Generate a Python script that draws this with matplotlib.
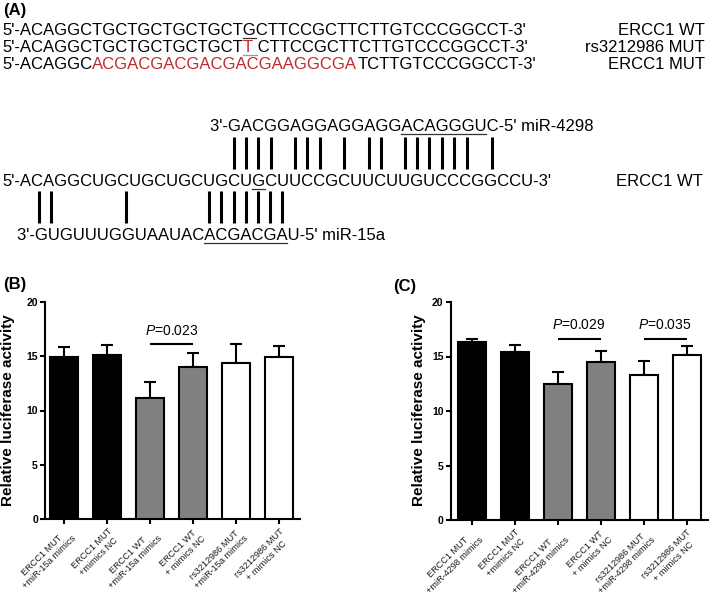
import numpy as np
import matplotlib
matplotlib.use('Agg')
import matplotlib.pyplot as plt
from matplotlib.font_manager import FontProperties

plt.rcParams['font.family'] = ['Liberation Sans', 'DejaVu Sans']
plt.rcParams['mathtext.fontset'] = 'custom'
plt.rcParams['mathtext.it'] = 'Liberation Sans:italic'
plt.rcParams['mathtext.rm'] = 'Liberation Sans'

# ---------------- panel A: sequences ----------------
wt_dna = "ACAGGCTGCTGCTGCTGCTGCTTCCGCTTCTTGTCCCGGCCT"
snp_pos = 19          # G>T site (rs3212986)
snp_alt = "T"
mut_start, mut_end = 6, 28   # region replaced in ERCC1 MUT
mir4298 = "GACGGAGGAGGAGGACAGGGUC"   # written 3'->5'
mir15a = "GUGUUUGGUAAUACACGACGAU"    # written 3'->5'
mir4298_offset = 17   # miRNA base j sits over target base j+offset
mir15a_offset = 1
seed = (14, 21)
row_names = ["ERCC1 WT", "rs3212986 MUT", "ERCC1 MUT"]

# ---------------- panels B and C: luciferase ----------------
labels_b = ["ERCC1 MUT\n+miR-15a mimics", "ERCC1 MUT\n+mimics NC",
            "ERCC1 WT\n+miR-15a mimics", "ERCC1 WT\n+ mimics NC",
            "rs3212986 MUT\n+miR-15a mimics", "rs3212986 MUT\n+ mimics NC"]
values_b = [14.9, 15.15, 11.15, 14.0, 14.4, 14.95]
errors_b = [0.95, 0.9, 1.5, 1.3, 1.75, 1.0]
sig_b = [(2, 3, 16.1, "0.023")]

labels_c = ["ERCC1 MUT\n+miR-4298 mimics", "ERCC1 MUT\n+mimics NC",
            "ERCC1 WT\n+miR-4298 mimics", "ERCC1 WT\n+ mimics NC",
            "rs3212986 MUT\n+miR-4298 mimics", "rs3212986 MUT\n+ mimics NC"]
values_c = [16.35, 15.45, 12.5, 14.5, 13.3, 15.15]
errors_c = [0.3, 0.65, 1.05, 1.05, 1.25, 0.8]
sig_c = [(2, 3, 16.6, "0.029"), (4, 5, 16.6, "0.035")]

bar_colors = ['black', 'black', '#808080', '#808080', 'white', 'white']

W, H = 709, 596
fig = plt.figure(figsize=(W / 100, H / 100), dpi=100)
renderer = fig.canvas.get_renderer()

axA = fig.add_axes([0, 0, 1, 1])
axA.set_xlim(0, W)
axA.set_ylim(H, 0)
axA.axis('off')

fp = FontProperties(family='Liberation Sans', size=12)
red = '#c22b2b'


def tw(s):
    if s == "":
        return 0.0
    return renderer.get_text_width_height_descent(s, fp, ismath=False)[0]


def draw_pieces(x0, y, pieces):
    x = x0
    for txt, col in pieces:
        axA.text(x, y, txt, color=col, fontproperties=fp, ha='left', va='baseline')
        x += tw(txt)
    return "".join(p[0] for p in pieces)


def center(x0, s, k):
    return x0 + tw(s[:k]) + tw(s[k]) / 2


def underline(x0, s, a, b, y, col='#333333'):
    axA.plot([x0 + tw(s[:a]), x0 + tw(s[:b])], [y + 3, y + 3], color=col, lw=0.9)


axA.text(3, 15, "(A)", fontsize=12, fontweight='bold', va='baseline')

x0 = 2
# ERCC1 WT
s1 = draw_pieces(x0, 35, [("5'-" + wt_dna + "-3'", 'black')])
underline(x0, s1, 3 + snp_pos, 4 + snp_pos, 35)
# rs3212986 MUT
s2 = draw_pieces(x0, 52, [("5'-" + wt_dna[:snp_pos], 'black'), (snp_alt, red),
                          (" " + wt_dna[snp_pos + 1:] + "-3'", 'black')])
underline(x0, s2, 3 + snp_pos, 5 + snp_pos, 52, col='#999999')
# ERCC1 MUT (complement of the binding region)
comp = {'A': 'T', 'T': 'A', 'G': 'C', 'C': 'G'}
mut_part = "".join(comp[c] for c in wt_dna[mut_start:mut_end])
draw_pieces(x0, 69, [("5'-" + wt_dna[:mut_start], 'black'), (mut_part, red),
                     (wt_dna[mut_end:] + "-3'", 'black')])
for yb, name in zip([35, 52, 69], row_names):
    axA.text(705, yb, name, fontproperties=fp, ha='right', va='baseline')

# RNA target with the two miRNAs
rna = wt_dna.replace('T', 'U')
s_rna = "5'-" + rna + "-3'"
y_rna = 186
draw_pieces(x0, y_rna, [(s_rna, 'black')])
underline(x0, s_rna, 3 + snp_pos, 4 + snp_pos, y_rna)
axA.text(703, y_rna, "ERCC1 WT", fontproperties=fp, ha='right', va='baseline')

pairs = {('A', 'U'), ('U', 'A'), ('G', 'C'), ('C', 'G')}


def draw_mirna(mir, offset, name, y_text, bar_top, bar_bot, shift=0):
    s_m = "3'-" + mir + "-5' " + name
    tx = center(x0, s_rna, 3 + offset)
    xm = tx - (tw("3'-") + tw(mir[0]) / 2) + shift
    draw_pieces(xm, y_text, [(s_m, 'black')])
    underline(xm, s_m, 3 + seed[0], 3 + seed[1], y_text)
    for j, base in enumerate(mir):
        i = j + offset
        if i < len(rna) and (base, rna[i]) in pairs:
            xb = (center(x0, s_rna, 3 + i) + center(xm, s_m, 3 + j)) / 2
            axA.plot([xb, xb], [bar_top, bar_bot], color='black', lw=2.2,
                     solid_capstyle='butt')


draw_mirna(mir4298, mir4298_offset, "miR-4298", 131, 137, 169)
draw_mirna(mir15a, mir15a_offset, "miR-15a", 240, 191, 223, shift=4)


# ---------------- bar panels ----------------
def bar_panel(rect, values, errors, labels, sig, xlim):
    ax = fig.add_axes(rect)
    x = np.arange(len(values))
    ax.errorbar(x, values, yerr=[np.zeros(len(errors)), errors], fmt='none',
                ecolor='black', elinewidth=1.5, capsize=4.3, capthick=1.5, zorder=2)
    ax.bar(x, values, width=0.65, color=bar_colors, edgecolor='black',
           linewidth=1.5, zorder=3)
    ax.set_xlim(*xlim)
    ax.set_ylim(0, 20)
    ax.set_yticks([0, 5, 10, 15, 20])
    for side in ['top', 'right']:
        ax.spines[side].set_visible(False)
    for side in ['left', 'bottom']:
        ax.spines[side].set_linewidth(1.5)
    ax.tick_params(axis='both', width=1.5, length=3.6, direction='out')
    ax.tick_params(axis='y', labelsize=7.5, pad=1.5)
    for t in ax.get_yticklabels():
        t.set_fontweight('bold')
    ax.set_xticks(x)
    ax.set_xticklabels(labels, rotation=45, ha='right', va='top',
                       rotation_mode='anchor', fontsize=6.6,
                       multialignment='center', color='#1a1a1a')
    ax.tick_params(axis='x', pad=2)
    for a, b, y, p in sig:
        ax.plot([a, b], [y, y], color='black', lw=1.5, solid_capstyle='butt',
                clip_on=False)
        ax.annotate('$P$=' + p, xy=((a + b) / 2, y), xytext=(0, 7),
                    textcoords='offset points', ha='center', va='baseline',
                    fontsize=10)
    return ax


bar_panel([45 / W, (H - 519) / H, 255 / W, 217 / H], values_b, errors_b,
          labels_b, sig_b, (-0.45, 5.48))
bar_panel([450.5 / W, (H - 520) / H, (W - 450.5) / W, 218 / H], values_c, errors_c,
          labels_c, sig_c, (-0.49, 5.52))

for xl in [8, 419]:
    fig.text(xl / W, 1 - 410 / H, 'Relative luciferase activity', rotation=90,
             ha='center', va='center', fontsize=11, fontweight='bold')
fig.text(3 / W, 1 - 285 / H, '(B)', fontsize=12, fontweight='bold', va='center')
fig.text(393 / W, 1 - 287 / H, '(C)', fontsize=12, fontweight='bold', va='center')

fig.savefig('out.png', dpi=100)
